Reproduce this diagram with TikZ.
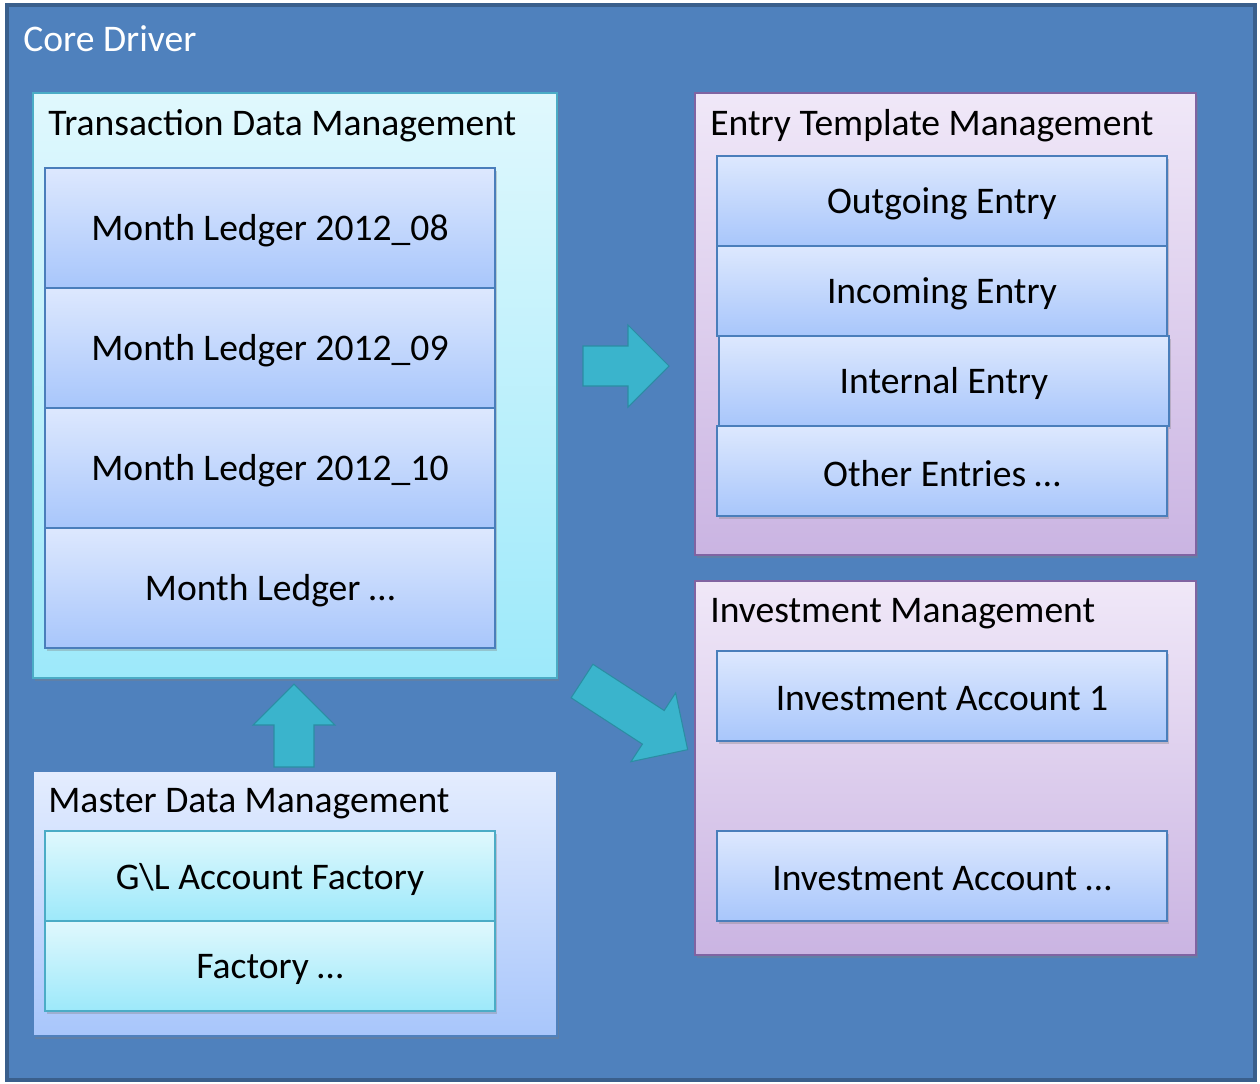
\documentclass[tikz,border=0pt]{standalone}
\usepackage{fontspec}
\setmainfont{Carlito}
\usepackage{tikz}
\usetikzlibrary{positioning}
\usetikzlibrary{shadows}
\definecolor{coreblue}{HTML}{4F81BD}
\definecolor{coreedge}{HTML}{3A5F8C}
\definecolor{cyantop}{HTML}{E0F8FD}
\definecolor{cyanbot}{HTML}{9DE9FA}
\definecolor{cyanedge}{HTML}{4BACC6}
\definecolor{bluetop}{HTML}{DDE8FE}
\definecolor{bluebot}{HTML}{A8C6FB}
\definecolor{blueedge}{HTML}{4A7EBB}
\definecolor{lilatop}{HTML}{F0E8F8}
\definecolor{lilabot}{HTML}{CAB4E2}
\definecolor{lilaedge}{HTML}{8064A2}
\definecolor{arrowfill}{HTML}{3AB4CC}
\definecolor{arrowedge}{HTML}{2B8DA3}
\tikzset{
  box/.style={draw, line width=1.2pt, anchor=north west, inner sep=0pt, outer sep=0pt,
    drop shadow={shadow xshift=1pt, shadow yshift=-1.5pt, opacity=0.35}},
  cyanbox/.style={box, draw=cyanedge, top color=cyantop, bottom color=cyanbot},
  bluebox/.style={box, draw=blueedge, top color=bluetop, bottom color=bluebot},
  lilabox/.style={box, draw=lilaedge, top color=lilatop, bottom color=lilabot},
  ledger/.style={bluebox, minimum width=9cm, minimum height=2.4cm},
  entry/.style={bluebox, minimum width=9cm, minimum height=1.8cm},
  factory/.style={cyanbox, minimum width=9cm, minimum height=1.8cm},
  title/.style={anchor=west, inner sep=0pt},
  boxtext/.style={yshift=-0.06cm},
}
\newcommand{\blockarrow}[3]{% position, angle, length
  \draw[fill=arrowfill, draw=arrowedge, line width=0.6pt, line join=miter,
    shift={#1}, rotate=#2]
    (0,-20) -- (#3-41,-20) -- (#3-41,-41) -- (#3,0) -- (#3-41,41)
    -- (#3-41,20) -- (0,20) -- cycle;}

\begin{document}
\begin{tikzpicture}[x=0.02cm, y=-0.02cm, font=\fontsize{21.4}{25}\selectfont]
\useasboundingbox (0,0) rectangle (1260,1083);
% core driver
\node[box, draw=coreedge, fill=coreblue, line width=2pt, minimum width=24.96cm,
  minimum height=21.5cm] (core) at (7,5) {};
\node[title, text=white] (coretitle) at (23,39) {Core Driver};

% transaction data
\node[cyanbox, minimum width=10.48cm, minimum height=11.7cm] (trans) at (33,93) {};
\node[title] (transtitle) at (48,126) {Transaction Data Management};
\node[ledger] (ledger1) at (45,168) {};
\node[boxtext] at (ledger1.center) {Month Ledger 2012\_08};
\node[ledger, below=0pt of ledger1.south west, anchor=north west] (ledger2) {};
\node[boxtext] at (ledger2.center) {Month Ledger 2012\_09};
\node[ledger, below=0pt of ledger2.south west, anchor=north west] (ledger3) {};
\node[boxtext] at (ledger3.center) {Month Ledger 2012\_10};
\node[ledger, below=0pt of ledger3.south west, anchor=north west] (ledger4) {};
\node[boxtext] at (ledger4.center) {Month Ledger \dots};

% master data
\node[bluebox, draw=coreblue, top color=bluetop!80!white, bottom color=bluebot,
  minimum width=10.48cm, minimum height=5.3cm] (master) at (33,771) {};
\node[title] (mastertitle) at (48,804) {Master Data Management};
\node[factory] (factory1) at (45,831) {};
\node[boxtext] at (factory1.center) {G\textbackslash L Account Factory};
\node[factory, below=0pt of factory1.south west, anchor=north west] (factory2) {};
\node[boxtext] at (factory2.center) {Factory \dots};

% entry templates
\node[lilabox, minimum width=10.02cm, minimum height=9.24cm] (template) at (695,93) {};
\node[title] (templatetitle) at (710,126) {Entry Template Management};
\node[entry] (entry1) at (717,156) {};
\node[boxtext] at (entry1.center) {Outgoing Entry};
\node[entry, below=0pt of entry1.south west, anchor=north west] (entry2) {};
\node[boxtext] at (entry2.center) {Incoming Entry};
\node[entry, below=0pt of entry2.south west, anchor=north west, xshift=0.04cm] (entry3) {};
\node[boxtext] at (entry3.center) {Internal Entry};
\node[entry, below=0pt of entry2.south west, anchor=north west, yshift=-1.8cm] (entry4) {};
\node[boxtext] at (entry4.center) {Other Entries \dots};

% investments
\node[lilabox, minimum width=10.02cm, minimum height=7.48cm] (invest) at (695,581) {};
\node[title] (investtitle) at (710,614) {Investment Management};
\node[entry] (account1) at (717,651) {};
\node[boxtext] at (account1.center) {Investment Account 1};
\node[entry] (account2) at (717,831) {};
\node[boxtext] at (account2.center) {Investment Account \dots};

% arrows
\blockarrow{(583,366)}{0}{86}
\blockarrow{(582,681)}{-33}{126}
\blockarrow{(294,767)}{90}{83}
\end{tikzpicture}
\end{document}
